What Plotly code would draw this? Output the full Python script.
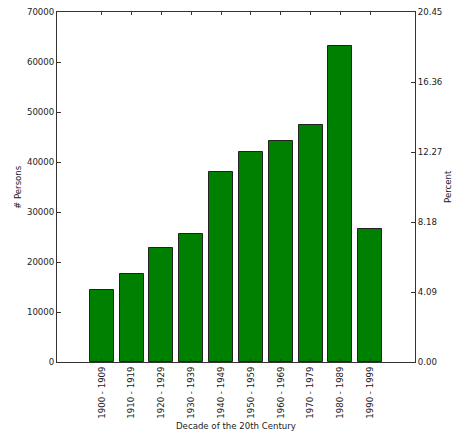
import plotly.graph_objects as go

# Persons per decade of the 20th century
decades = ["1900 - 1909", "1910 - 1919", "1920 - 1929", "1930 - 1939", "1940 - 1949",
           "1950 - 1959", "1960 - 1969", "1970 - 1979", "1980 - 1989", "1990 - 1999"]
persons = [14400, 17700, 22900, 25700, 38000, 42100, 44200, 47400, 63300, 26600]

left_ticks = [0, 10000, 20000, 30000, 40000, 50000, 60000, 70000]
y_max = 70000

total = sum(persons)
# Right axis: share of all persons, ticks at five equal steps of the left range
pct_max = y_max / total * 100
pct_ticks = [pct_max * i / 5 for i in range(6)]
pct_labels = [f"{v:.2f}" for v in pct_ticks]

font = dict(family="DejaVu Sans", size=8.6, color="#222")
x = list(range(len(decades)))

fig = go.Figure()
fig.add_trace(go.Bar(
    x=x, y=persons, width=0.8,
    marker=dict(color="#008000", line=dict(color="#222", width=1)),
    showlegend=False, hoverinfo="x+y",
))
# invisible trace to carry the percent axis
fig.add_trace(go.Scatter(x=[x[0]], y=[0], yaxis="y2", mode="markers",
                         marker=dict(opacity=0), showlegend=False, hoverinfo="skip"))

axis_common = dict(
    ticks="inside", tickcolor="#333",
    showline=True, linecolor="#333", linewidth=1,
    showgrid=False, zeroline=False, automargin=False,
)

fig.update_layout(
    width=454, height=435,
    margin=dict(l=57, r=39, t=12, b=73),
    paper_bgcolor="white", plot_bgcolor="white",
    font=font,
    bargap=0,
    xaxis=dict(
        range=[-1.5, len(decades) + 0.5],
        tickvals=x, ticktext=decades, tickangle=-90, ticklen=3,
        mirror="ticks", **axis_common,
    ),
    yaxis=dict(
        range=[0, y_max], tickvals=left_ticks, tickformat="d", ticklen=4,
        **axis_common,
    ),
    yaxis2=dict(
        overlaying="y", side="right",
        range=[0, pct_max], tickvals=pct_ticks, ticktext=pct_labels, ticklen=4,
        **axis_common,
    ),
    annotations=[
        dict(text="Decade of the 20th Century", xref="paper", yref="paper",
             x=0.5, y=0, yshift=-64, showarrow=False, font=font,
             xanchor="center", yanchor="middle"),
        dict(text="# Persons", xref="paper", yref="paper",
             x=0, y=0.5, xshift=-39, textangle=-90, showarrow=False, font=font,
             xanchor="center", yanchor="middle"),
        dict(text="Percent", xref="paper", yref="paper",
             x=1, y=0.5, xshift=33, textangle=-90, showarrow=False, font=font,
             xanchor="center", yanchor="middle"),
    ],
)

fig.write_html("out.html")
